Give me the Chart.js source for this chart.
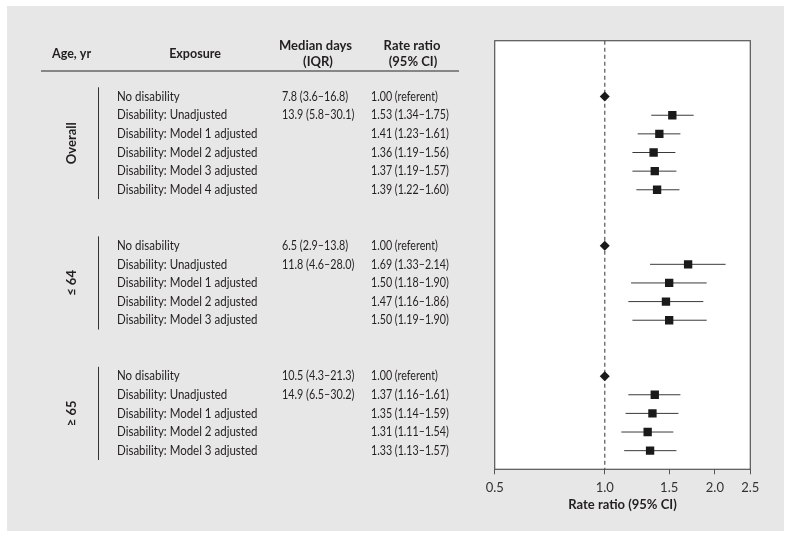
<!DOCTYPE html>
<html>
<head>
<meta charset="utf-8">
<script src="https://cdn.jsdelivr.net/npm/chart.js@4"></script>
<style>
  html, body { margin: 0; padding: 0; background: #fff; }
  canvas { display: block; }
</style>
</head>
<body>
<canvas id="forest" width="791" height="538"></canvas>
<script>
// table + forest plot data
const rowSlots = [0, 1, 2, 3, 4, 5, 8, 9, 10, 11, 12, 15, 16, 17, 18, 19];
const exposures = [
    'No disability', 'Disability: Unadjusted', 'Disability: Model 1 adjusted',
    'Disability: Model 2 adjusted', 'Disability: Model 3 adjusted', 'Disability: Model 4 adjusted',
    'No disability', 'Disability: Unadjusted', 'Disability: Model 1 adjusted',
    'Disability: Model 2 adjusted', 'Disability: Model 3 adjusted',
    'No disability', 'Disability: Unadjusted', 'Disability: Model 1 adjusted',
    'Disability: Model 2 adjusted', 'Disability: Model 3 adjusted'
];
const medianDays = [
    '7.8 (3.6–16.8)', '13.9 (5.8–30.1)', '', '', '', '',
    '6.5 (2.9–13.8)', '11.8 (4.6–28.0)', '', '', '',
    '10.5 (4.3–21.3)', '14.9 (6.5–30.2)', '', '', ''
];
const rateRatio = [1.00, 1.53, 1.41, 1.36, 1.37, 1.39, 1.00, 1.69, 1.50, 1.47, 1.50, 1.00, 1.37, 1.35, 1.31, 1.33];
const ciLower   = [null, 1.34, 1.23, 1.19, 1.19, 1.22, null, 1.33, 1.18, 1.16, 1.19, null, 1.16, 1.14, 1.11, 1.13];
const ciUpper   = [null, 1.75, 1.61, 1.56, 1.57, 1.60, null, 2.14, 1.90, 1.86, 1.90, null, 1.61, 1.59, 1.54, 1.57];

const ageGroups = ['Overall', '≤ 64', '≥ 65'];
const groupSpans = [[0, 5], [8, 12], [15, 19]];
const xTicks = [0.5, 1.0, 1.5, 2.0, 2.5];

const FONT = 'Lato';
const TEXT = '#231f20';

const rrLabel = (i) => ciLower[i] === null
    ? rateRatio[i].toFixed(2) + ' (referent)'
    : `${rateRatio[i].toFixed(2)} (${ciLower[i].toFixed(2)}–${ciUpper[i].toFixed(2)})`;

const refPoints = [], estPoints = [];
rateRatio.forEach((v, i) => {
    const p = { x: v, y: rowSlots[i] };
    (ciLower[i] === null ? refPoints : estPoints).push(p);
});

// Lato is wider than the original face, so squeeze the body text a bit
function narrowText(ctx, str, x, y, sx) {
    ctx.save();
    ctx.translate(x, y);
    ctx.scale(sx, 1);
    ctx.fillText(str, 0, 0);
    ctx.restore();
}

const tablePlugin = {
    id: 'table',
    beforeDraw(chart) {
        const { ctx, chartArea: a, scales: { x, y } } = chart;
        ctx.save();
        ctx.fillStyle = '#e6e7e6';
        ctx.fillRect(7, 6, 777, 525);
        ctx.fillStyle = '#fff';
        ctx.fillRect(a.left, a.top, a.right - a.left, a.bottom - a.top);

        // headers
        ctx.fillStyle = TEXT;
        ctx.textBaseline = 'middle';
        ctx.font = `bold 12.5px ${FONT}`;
        ctx.textAlign = 'left';
        ctx.fillText('Age, yr', 52, 54);
        ctx.textAlign = 'center';
        ctx.fillText('Exposure', 195, 54);
        ctx.font = `bold 13px ${FONT}`;
        ctx.fillText('Median days', 315.5, 46);
        ctx.fillText('(IQR)', 318, 62);
        ctx.fillText('Rate ratio', 412, 46);
        ctx.fillText('(95% CI)', 413, 62);

        ctx.strokeStyle = '#666';
        ctx.lineWidth = 1.5;
        ctx.beginPath();
        ctx.moveTo(41, 71);
        ctx.lineTo(459, 71);
        ctx.stroke();

        // group labels and brackets
        ctx.strokeStyle = '#333';
        ctx.lineWidth = 1;
        groupSpans.forEach(([s, e], g) => {
            const y0 = y.getPixelForValue(s - 0.5), y1 = y.getPixelForValue(e + 0.5);
            ctx.beginPath();
            ctx.moveTo(98.5, y0);
            ctx.lineTo(98.5, y1);
            ctx.stroke();
            ctx.save();
            ctx.translate(71.5, (y.getPixelForValue(s) + y.getPixelForValue(e)) / 2);
            ctx.rotate(-Math.PI / 2);
            ctx.textAlign = 'center';
            ctx.font = `bold 13px ${FONT}`;
            ctx.fillText(ageGroups[g], 0, 0);
            ctx.restore();
        });

        // rows
        ctx.font = `13px ${FONT}`;
        ctx.textAlign = 'left';
        rowSlots.forEach((slot, i) => {
            const py = y.getPixelForValue(slot);
            narrowText(ctx, exposures[i], 117, py, 0.885);
            if (medianDays[i]) narrowText(ctx, medianDays[i], 282, py, 0.83);
            narrowText(ctx, rrLabel(i), 371, py, 0.82);
        });
        ctx.restore();
    },
    beforeDatasetsDraw(chart) {
        const { ctx, chartArea: a, scales: { x, y } } = chart;
        ctx.save();
        // reference line at 1.0
        const x1 = x.getPixelForValue(1);
        ctx.strokeStyle = '#555';
        ctx.lineWidth = 1.2;
        ctx.setLineDash([4, 3]);
        ctx.beginPath();
        ctx.moveTo(x1, a.top);
        ctx.lineTo(x1, a.bottom);
        ctx.stroke();
        ctx.setLineDash([]);
        // CI whiskers
        ctx.strokeStyle = '#3a3a3a';
        ctx.lineWidth = 1;
        rowSlots.forEach((slot, i) => {
            if (ciLower[i] === null) return;
            const py = y.getPixelForValue(slot);
            ctx.beginPath();
            ctx.moveTo(x.getPixelForValue(ciLower[i]), py);
            ctx.lineTo(x.getPixelForValue(ciUpper[i]), py);
            ctx.stroke();
        });
        ctx.restore();
    },
    afterDraw(chart) {
        const { ctx, chartArea: a } = chart;
        ctx.save();
        ctx.strokeStyle = '#555';
        ctx.lineWidth = 1.2;
        ctx.strokeRect(a.left, a.top, a.right - a.left, a.bottom - a.top);
        ctx.restore();
    }
};

Chart.defaults.font.family = FONT;
Chart.defaults.color = TEXT;

new Chart(document.getElementById('forest'), {
    type: 'scatter',
    data: {
        datasets: [
            {
                label: 'Referent',
                data: refPoints,
                pointStyle: 'rectRot',
                pointRadius: 5,
                backgroundColor: '#1a1a1a',
                borderColor: '#1a1a1a',
                borderWidth: 0
            },
            {
                label: 'Rate ratio',
                data: estPoints,
                pointStyle: 'rect',
                pointRadius: 5.9,
                backgroundColor: '#1a1a1a',
                borderColor: '#1a1a1a',
                borderWidth: 0
            }
        ]
    },
    options: {
        responsive: false,
        animation: false,
        layout: { padding: { left: 494.7, right: 40.7, top: 40.7, bottom: 0 } },
        plugins: {
            legend: { display: false },
            tooltip: { enabled: false }
        },
        scales: {
            x: {
                type: 'logarithmic',
                min: 0.5,
                max: 2.5,
                afterBuildTicks: (s) => { s.ticks = xTicks.map(v => ({ value: v })); },
                afterFit: (s) => { s.height = 68.7; },
                ticks: {
                    callback: (v) => Number(v).toFixed(1),
                    font: { size: 13 },
                    color: '#333',
                    padding: 5.5,
                    maxRotation: 0
                },
                grid: { drawOnChartArea: false, drawTicks: true, tickLength: 5, color: '#555' },
                border: { display: false },
                title: {
                    display: true,
                    text: 'Rate ratio (95% CI)',
                    font: { size: 13, weight: 'bold' },
                    color: TEXT,
                    padding: { top: 4, bottom: 25 }
                }
            },
            y: {
                type: 'linear',
                min: -3,
                max: 20,
                reverse: true,
                display: false
            }
        }
    },
    plugins: [tablePlugin]
});
</script>
</body>
</html>
